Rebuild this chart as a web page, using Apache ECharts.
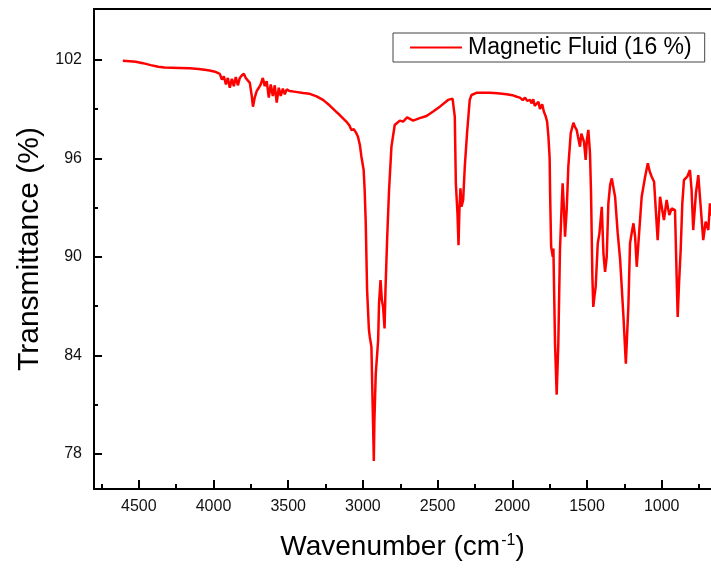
<!DOCTYPE html>
<html>
<head>
<meta charset="utf-8">
<script src="https://cdn.jsdelivr.net/npm/echarts@6/dist/echarts.min.js"></script>
<style>
  html, body { margin: 0; padding: 0; background: #fff; }
  #chart { width: 711px; height: 568px; }
</style>
</head>
<body>
<div id="chart"></div>
<script>
// FTIR spectrum
var wavenumber = [
    4607, 4560, 4520, 4473, 4420, 4370, 4328, 4280, 4230, 4160, 4100, 4060, 4026, 3990,
    3958, 3944, 3931, 3917, 3904, 3891, 3877, 3864, 3851, 3837, 3824, 3811, 3797, 3784,
    3771, 3757, 3744, 3736, 3724, 3711, 3697, 3684, 3670, 3657, 3644, 3630, 3617, 3603,
    3590, 3577, 3563, 3550, 3536, 3523, 3510, 3490, 3450, 3400, 3356, 3310, 3267, 3220,
    3180, 3155, 3111, 3090, 3077, 3061, 3045, 3033, 3020, 3010, 2995, 2988, 2981, 2972,
    2960, 2954, 2943, 2936, 2932, 2927, 2923, 2914, 2898, 2892, 2882, 2873, 2865, 2855,
    2849, 2838, 2825, 2809, 2787, 2753, 2731, 2704, 2664, 2620, 2574, 2530, 2485, 2430,
    2400, 2385, 2378, 2367, 2360, 2354, 2347, 2340, 2329, 2318, 2303, 2285, 2273, 2240,
    2200, 2150, 2100, 2038, 2000, 1970, 1949, 1930, 1915, 1900, 1882, 1870, 1860, 1850,
    1837, 1825, 1815, 1800, 1789, 1778, 1767, 1758, 1750, 1747, 1740, 1729, 1725, 1714,
    1703, 1692, 1681, 1669, 1663, 1654, 1647, 1636, 1625, 1609, 1591, 1580, 1569, 1560,
    1547, 1538, 1529, 1520, 1509, 1500, 1491, 1480, 1473, 1464, 1458, 1450, 1442, 1428,
    1417, 1401, 1390, 1379, 1368, 1357, 1345, 1334, 1323, 1312, 1295, 1278, 1256, 1240,
    1223, 1212, 1200, 1189, 1178, 1167, 1156, 1134, 1111, 1093, 1080, 1067, 1051, 1038,
    1027, 1011, 1000, 985, 967, 949, 933, 911, 900, 893, 884, 873, 862, 851,
    829, 811, 800, 789, 771, 755, 739, 722, 706, 688, 677, 670
];
var transmittance = [
    101.94, 101.92, 101.88, 101.80, 101.68, 101.58, 101.53, 101.52, 101.51, 101.49, 101.45, 101.40, 101.35, 101.28,
    101.15, 100.80, 101.00, 100.50, 100.90, 100.30, 100.85, 100.40, 100.95, 100.45, 100.90, 101.05, 101.15, 100.90,
    100.95, 100.60, 99.80, 99.15, 99.70, 100.10, 100.30, 100.50, 100.90, 100.40, 100.70, 99.70, 100.50, 99.80,
    100.45, 99.40, 100.30, 99.80, 100.25, 99.90, 100.20, 100.10, 100.05, 99.98, 99.93, 99.78, 99.56, 99.20,
    98.85, 98.64, 98.24, 98.00, 97.73, 97.77, 97.55, 97.32, 96.80, 96.10, 95.29, 94.00, 92.04, 87.97,
    85.60, 85.12, 84.51, 81.45, 79.83, 77.56, 80.04, 82.88, 84.92, 87.16, 88.58, 87.36, 86.95, 85.63,
    87.97, 91.02, 94.07, 96.71, 98.03, 98.30, 98.24, 98.50, 98.30, 98.45, 98.58, 98.85, 99.15, 99.56,
    99.64, 98.54, 94.48, 92.65, 90.71, 92.85, 94.17, 93.05, 93.46, 95.49, 97.53, 99.56, 99.86, 99.99,
    100.00, 99.99, 99.96, 99.91, 99.85, 99.75, 99.70, 99.55, 99.70, 99.50, 99.56, 99.35, 99.60, 99.20,
    99.25, 99.45, 99.00, 99.30, 98.85, 98.60, 98.24, 97.30, 96.00, 93.87, 90.61, 90.00, 90.51, 84.71,
    81.60, 84.71, 90.41, 93.26, 94.48, 92.85, 91.22, 92.85, 95.49, 97.53, 98.17, 97.90, 97.73, 97.30,
    96.71, 97.50, 97.42, 97.00, 95.90, 97.20, 97.73, 96.31, 93.87, 88.78, 86.95, 87.60, 88.17, 90.82,
    91.43, 93.05, 90.21, 89.08, 90.00, 93.26, 94.40, 94.78, 94.20, 93.66, 91.50, 89.80, 86.34, 83.49,
    87.00, 90.82, 91.50, 92.04, 91.22, 89.39, 90.82, 93.66, 94.88, 95.70, 95.20, 94.88, 94.57, 92.65,
    91.02, 93.66, 93.66, 92.24, 93.46, 92.54, 92.95, 92.85, 88.78, 86.34, 88.38, 90.41, 93.26, 94.68,
    94.88, 95.29, 94.07, 91.63, 93.87, 94.98, 93.05, 91.02, 92.14, 91.63, 93.26, 92.50
];
var xLabels = [1000, 1500, 2000, 2500, 3000, 3500, 4000, 4500];
var xMinor = [750, 1250, 1750, 2250, 2750, 3250, 3750, 4250, 4750];
var yLabels = [78, 84, 90, 96, 102];
var yMinor = [81, 87, 93, 99];
var seriesName = 'Magnetic Fluid (16 %)';

var spectrum = [];
for (var i = 0; i < wavenumber.length; i++) {
    spectrum.push([wavenumber[i], transmittance[i]]);
}

var xMin = 670, xMax = 4800;
var yMin = 75.85, yMax = 105.1;
var font = 'Liberation Sans, Arial, sans-serif';

var chart = echarts.init(document.getElementById('chart'));
var option = {
    animation: false,
    textStyle: {fontFamily: font},
    grid: {left: 94, right: 0, top: 9, bottom: 79},
    legend: {
        data: [seriesName],
        left: 393,
        top: 33,
        padding: [3, 13, 3, 17],
        itemWidth: 52,
        itemHeight: 2,
        itemGap: 0,
        icon: 'rect',
        borderColor: '#444',
        borderWidth: 1,
        backgroundColor: '#fff',
        textStyle: {fontSize: 23, color: '#000', fontFamily: font, padding: [0, 0, 0, 1]}
    },
    xAxis: [
        {
            type: 'value', position: 'bottom', inverse: true, min: xMin, max: xMax,
            axisLine: {show: true, onZero: false, lineStyle: {color: '#000', width: 2}},
            axisTick: {show: true, inside: true, length: 9, customValues: xLabels, lineStyle: {color: '#000', width: 2}},
            axisLabel: {
                customValues: xLabels, fontSize: 16, color: '#111', margin: 10,
                formatter: function (v) { return String(v); }
            },
            splitLine: {show: false},
            name: 'Wavenumber (cm{sup|-1})',
            nameLocation: 'middle',
            nameGap: 44,
            nameTextStyle: {
                fontSize: 28, color: '#000',
                rich: {sup: {fontSize: 16, verticalAlign: 'top', padding: [0, 0, 12, 1]}}
            }
        },
        {
            type: 'value', position: 'bottom', inverse: true, min: xMin, max: xMax,
            axisLine: {show: false, onZero: false},
            axisTick: {show: true, inside: true, length: 5, customValues: xMinor, lineStyle: {color: '#000', width: 2}},
            axisLabel: {show: false},
            splitLine: {show: false}
        },
        {
            type: 'value', position: 'top', inverse: true, min: xMin, max: xMax,
            axisLine: {show: true, onZero: false, lineStyle: {color: '#000', width: 2}},
            axisTick: {show: false},
            axisLabel: {show: false},
            splitLine: {show: false}
        }
    ],
    yAxis: [
        {
            type: 'value', position: 'left', min: yMin, max: yMax,
            axisLine: {show: true, onZero: false, lineStyle: {color: '#000', width: 2}},
            axisTick: {show: true, inside: true, length: 8, customValues: yLabels, lineStyle: {color: '#000', width: 2}},
            axisLabel: {customValues: yLabels, fontSize: 16, color: '#111', margin: 12},
            splitLine: {show: false},
            name: 'Transmittance (%)',
            nameLocation: 'middle',
            nameGap: 48,
            nameTextStyle: {fontSize: 30, color: '#000'}
        },
        {
            type: 'value', position: 'left', min: yMin, max: yMax,
            axisLine: {show: false, onZero: false},
            axisTick: {show: true, inside: true, length: 4, customValues: yMinor, lineStyle: {color: '#000', width: 2}},
            axisLabel: {show: false},
            splitLine: {show: false}
        }
    ],
    series: [
        {
            name: seriesName,
            type: 'line',
            xAxisIndex: 0,
            yAxisIndex: 0,
            data: spectrum,
            showSymbol: false,
            symbol: 'none',
            color: '#ff0000',
            lineStyle: {color: '#ff0000', width: 2.5}
        }
    ]
};
chart.setOption(option);
</script>
</body>
</html>
